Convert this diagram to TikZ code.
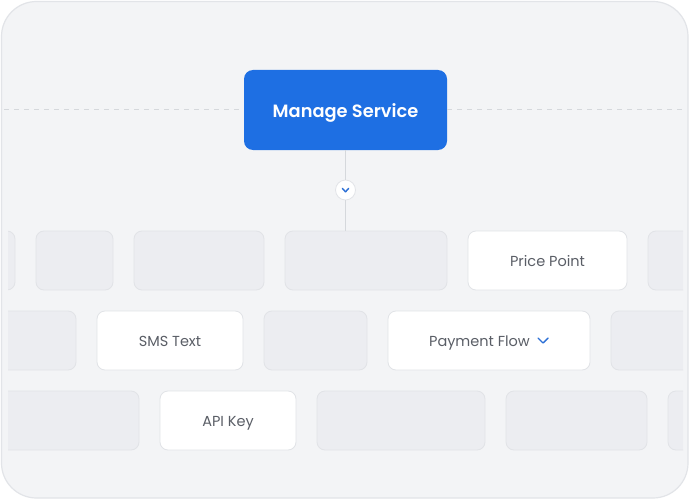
\documentclass[tikz,border=0pt]{standalone}
\usepackage{fontspec}
\setmainfont{Poppins}
\newfontfamily\semib{Poppins SemiBold}
\definecolor{cardbg}{HTML}{F3F4F6}
\definecolor{cardline}{HTML}{E2E4E8}
\definecolor{tilefill}{HTML}{ECEDF1}
\definecolor{tileline}{HTML}{E1E3E7}
\definecolor{mainblue}{HTML}{1E6FE3}
\definecolor{labelgray}{HTML}{5A5E66}
\definecolor{dashgray}{HTML}{D5D8DC}
\definecolor{chevblue}{HTML}{2B6FD6}
\begin{document}
\begin{tikzpicture}[x=1pt,y=-1pt,
  tile/.style={draw=tileline, fill=tilefill, rounded corners=8pt, line width=0.8pt,
    minimum height=59pt, inner sep=0pt, outer sep=0pt},
  tilew/.style={tile, fill=white, font=\fontsize{14.5}{17}\selectfont, text=labelgray,
    text height=11.5pt, text depth=0pt},
  mainbox/.style={draw=none, fill=mainblue, rounded corners=9pt, minimum width=203pt,
    minimum height=80pt, inner sep=0pt, text=white, font=\semib\fontsize{17.8}{20}\selectfont,
    text height=15pt, text depth=0pt},
  conn/.style={draw=dashgray, line width=1pt},
  dashconn/.style={draw=dashgray, line width=1pt, dash pattern=on 5pt off 5pt},
  chevbtn/.style={circle, draw=cardline, fill=white, minimum size=20pt, inner sep=0pt, line width=0.8pt},
  chev/.style={draw=chevblue, line width=1.4pt, line cap=round, line join=round}]
\useasboundingbox (0,0) rectangle (690,500);
\fill[white] (0,0) rectangle (690,500);
% card
\draw[fill=cardbg, draw=cardline, line width=1.2pt, rounded corners=35pt] (1.5,1.5) rectangle (688,498);
% named anchors for dashed guide
\coordinate (dl) at (4,110);
\coordinate (dr) at (686,110);
\node[mainbox] (manage) at (345.5,110) {Manage Service};
\draw[dashconn] (dl) -- (manage.west);
\draw[dashconn] (manage.east) -- (dr);
\begin{scope}
\clip (8,0) rectangle (683,500);
% row 1
\node[tile, minimum width=65pt] (t11) at (-17.5,260.5) {};
\node[tile, minimum width=77pt] (t12) at (74.5,260.5) {};
\node[tile, minimum width=130pt] (t13) at (199,260.5) {};
\node[tile, minimum width=162pt] (t14) at (366,260.5) {};
\node[tilew, minimum width=159pt] (price) at (547.5,260.5) {Price Point};
\node[tile, minimum width=82pt] (t16) at (689,260.5) {};
% row 2
\node[tile, minimum width=116pt] (t21) at (18,340.5) {};
\node[tilew, minimum width=146pt] (sms) at (170,340.5) {SMS Text};
\node[tile, minimum width=103pt] (t23) at (315.5,340.5) {};
\node[tilew, minimum width=202pt] (pay) at (489,340.5) {Payment Flow\kern19pt};
\node[tile, minimum width=109pt] (t25) at (665.5,340.5) {};
% row 3
\node[tile, minimum width=159pt] (t31) at (59.5,420.5) {};
\node[tilew, minimum width=136pt] (api) at (228,420.5) {API Key};
\node[tile, minimum width=168pt] (t33) at (401,420.5) {};
\node[tile, minimum width=141pt] (t34) at (576.5,420.5) {};
\node[tile, minimum width=92pt] (t35) at (714,420.5) {};
\end{scope}
% connector with chevron button
\node[chevbtn] (btn) at (345.5,190) {};
\draw[conn] (manage.south) -- (btn.north);
\draw[conn] (btn.south) -- (manage.south |- t14.north);
\draw[chev] ([xshift=-3.2pt,yshift=1.6pt]btn.center) -- ([yshift=-1.8pt]btn.center) -- ([xshift=3.2pt,yshift=1.6pt]btn.center);
% chevron in Payment Flow
\coordinate (pc) at ([xshift=54pt]pay.center);
\draw[chev] ([xshift=-5pt,yshift=2.5pt]pc) -- ([yshift=-2.5pt]pc) -- ([xshift=5pt,yshift=2.5pt]pc);
\end{tikzpicture}
\end{document}
